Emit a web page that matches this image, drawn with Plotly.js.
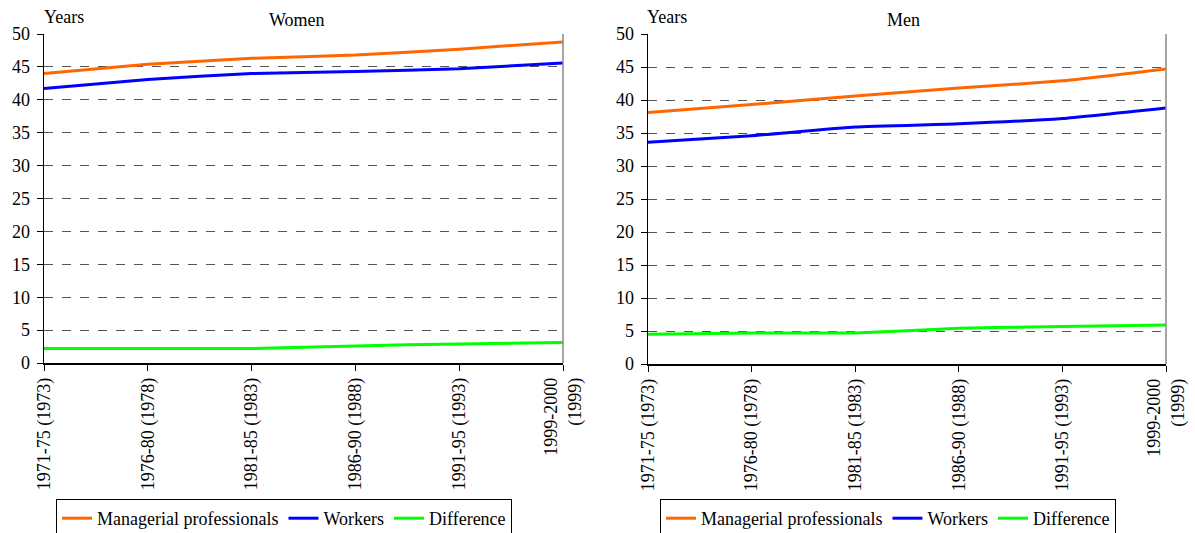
<!DOCTYPE html>
<html><head><meta charset="utf-8">
<script src="https://cdn.plot.ly/plotly-3.0.1.min.js"></script>
<style>html,body{margin:0;padding:0;background:#fff}#c{width:1195px;height:533px}</style>
</head><body><div id="c"></div>
<script>
const categories = ["1971-75 (1973)","1976-80 (1978)","1981-85 (1983)","1986-90 (1988)","1991-95 (1993)","1999-2000<br>(1999)"];
const womenManagerial = [44.0, 45.4, 46.3, 46.8, 47.7, 48.8];
const womenWorkers    = [41.7, 43.1, 44.0, 44.3, 44.7, 45.6];
const womenDifference = [2.2, 2.2, 2.2, 2.6, 2.9, 3.1];
const menManagerial   = [38.1, 39.3, 40.6, 41.8, 42.9, 44.7];
const menWorkers      = [33.6, 34.6, 35.9, 36.4, 37.2, 38.8];
const menDifference   = [4.5, 4.7, 4.7, 5.4, 5.7, 5.9];
const seriesNames = ["Managerial professionals","Workers","Difference"];
const colors = ["#FF6600","#0000FF","#00FF00"];

const W = 1195, H = 533;
const px = v => v / W, py = v => (H - v) / H;
const fam = "Liberation Serif, Times New Roman, serif";
const font = {family: fam, size: 18, color: "#000"};

function tr(y, i, xa, ya, leg) {
  return {x: categories, y: y, type: "scatter", mode: "lines", name: seriesNames[i],
    line: {color: colors[i], width: 3, shape: "spline", smoothing: 0.4},
    xaxis: xa, yaxis: ya, legend: leg, hoverinfo: "skip"};
}
const data = [
  tr(womenManagerial, 0, "x", "y", "legend"),
  tr(womenWorkers, 1, "x", "y", "legend"),
  tr(womenDifference, 2, "x", "y", "legend"),
  tr(menManagerial, 0, "x2", "y2", "legend2"),
  tr(menWorkers, 1, "x2", "y2", "legend2"),
  tr(menDifference, 2, "x2", "y2", "legend2")
];
const xbase = {type: "category", range: [0, 5], showgrid: false, showline: true, linecolor: "#000", linewidth: 1.5,
  ticks: "outside", ticklen: 6, tickcolor: "#000", tickangle: -90, tickfont: font, zeroline: false, fixedrange: true};
const ybase = {range: [0, 50], dtick: 5, showgrid: true, gridcolor: "#555", griddash: "dash", gridwidth: 1,
  showline: true, linecolor: "#000", linewidth: 1.5, ticks: "outside", ticklen: 6, tickcolor: "#000",
  tickfont: font, ticklabelstandoff: 3, zeroline: false, fixedrange: true};
const layout = {
  width: W, height: H, margin: {l: 0, r: 0, t: 0, b: 0, autoexpand: false},
  paper_bgcolor: "#fff", plot_bgcolor: "#fff", font: font, showlegend: true,
  xaxis: Object.assign({}, xbase, {domain: [px(44), px(563)], anchor: "y"}),
  yaxis: Object.assign({}, ybase, {domain: [py(363), py(34)], anchor: "x"}),
  xaxis2: Object.assign({}, xbase, {domain: [px(648), px(1166)], anchor: "y2"}),
  yaxis2: Object.assign({}, ybase, {domain: [py(364), py(34)], anchor: "x2"}),
  legend: {orientation: "h", x: px(56), y: py(499), xanchor: "left", yanchor: "top",
    bordercolor: "#000", borderwidth: 1, bgcolor: "#fff", font: font, traceorder: "normal"},
  legend2: {orientation: "h", x: px(660), y: py(499), xanchor: "left", yanchor: "top",
    bordercolor: "#000", borderwidth: 1, bgcolor: "#fff", font: font, traceorder: "normal"},
  shapes: [
    {type: "line", xref: "x domain", yref: "y domain", x0: 1, x1: 1, y0: 0, y1: 1, line: {color: "#888", width: 1.5}},
    {type: "line", xref: "x2 domain", yref: "y2 domain", x0: 1, x1: 1, y0: 0, y1: 1, line: {color: "#888", width: 1.5}}
  ],
  annotations: [
    {text: "Years", xref: "paper", yref: "paper", x: px(42), y: py(17), xanchor: "left", yanchor: "middle", showarrow: false, font: font},
    {text: "Women", xref: "paper", yref: "paper", x: px(297), y: py(20), xanchor: "center", yanchor: "middle", showarrow: false, font: font},
    {text: "Years", xref: "paper", yref: "paper", x: px(645), y: py(17), xanchor: "left", yanchor: "middle", showarrow: false, font: font},
    {text: "Men", xref: "paper", yref: "paper", x: px(903), y: py(20), xanchor: "center", yanchor: "middle", showarrow: false, font: font}
  ]
};
Plotly.newPlot("c", data, layout, {staticPlot: true});
</script></body></html>
